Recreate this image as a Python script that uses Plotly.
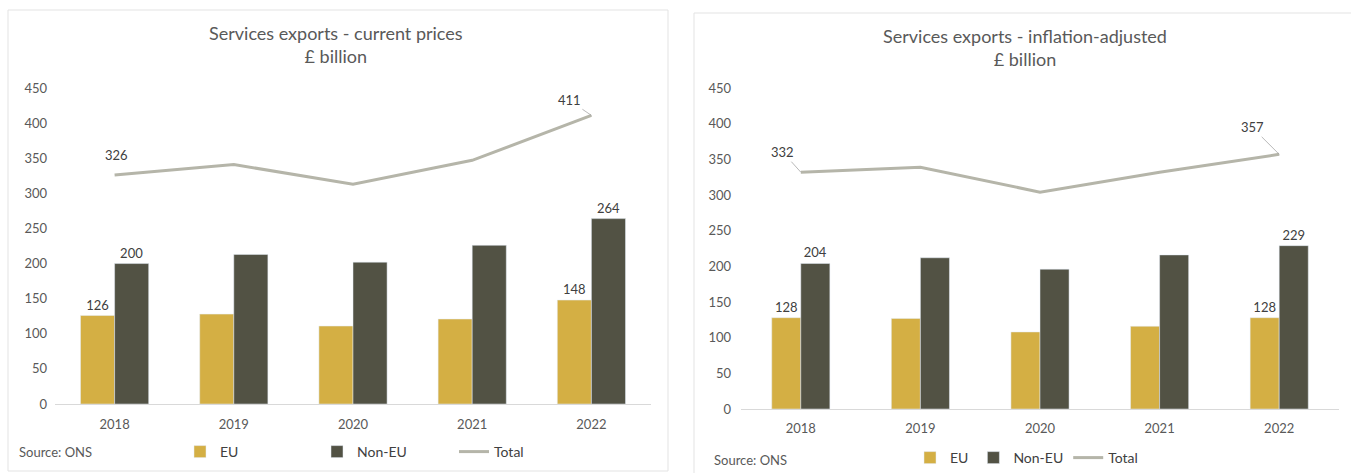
import plotly.graph_objects as go

# ---------------- data ----------------
years = ["2018", "2019", "2020", "2021", "2022"]
eu_current = [126, 128, 111, 121, 148]
noneu_current = [200, 213, 202, 226, 264]
total_current = [326, 341, 313, 347, 411]
eu_real = [128, 127, 108, 116, 128]
noneu_real = [204, 212, 196, 216, 229]
total_real = [332, 339, 304, 332, 357]
y_ticks = [0, 50, 100, 150, 200, 250, 300, 350, 400, 450]
labelled = [0, 4]  # indices that carry data labels

W, H = 1351, 473
def px(x):
    return x / W
def py(y):
    return 1 - y / H

EU_COL = "#D4AF44"
NONEU_COL = "#525244"
TOT_COL = "#B5B5A9"
TXT = "#595959"
FONT = "Lato"

def lab(vals):
    return [str(v) if i in labelled else "" for i, v in enumerate(vals)]

fig = go.Figure()

def add_panel(eu, noneu, tot, xa, ya, leg, w):
    fig.add_trace(go.Bar(x=years, y=eu, name="EU", marker_color=EU_COL,
                         width=w, offset=-w, text=lab(eu), textposition="outside",
                         textfont=dict(size=13, color="#404040", family=FONT),
                         cliponaxis=False, xaxis=xa, yaxis=ya, legend=leg))
    fig.add_trace(go.Bar(x=years, y=noneu, name="Non-EU", marker_color=NONEU_COL,
                         width=w, offset=0, text=lab(noneu), textposition="outside",
                         textfont=dict(size=13, color="#404040", family=FONT),
                         cliponaxis=False, xaxis=xa, yaxis=ya, legend=leg))
    fig.add_trace(go.Scatter(x=years, y=tot, name="Total", mode="lines",
                             line=dict(color=TOT_COL, width=3),
                             xaxis=xa, yaxis=ya, legend=leg))

add_panel(eu_current, noneu_current, total_current, "x", "y", "legend", 0.286)
add_panel(eu_real, noneu_real, total_real, "x2", "y2", "legend2", 0.243)

axis_x = dict(type="category", range=[-0.5, len(years) - 0.5], autorange=False,
              automargin=False, showline=True, linecolor="#d9d9d9", linewidth=1,
              showgrid=False, zeroline=False, ticks="",
              tickfont=dict(size=13, color=TXT, family=FONT))
axis_y = dict(range=[0, 450], autorange=False, automargin=False, tickvals=y_ticks,
              showline=False, showgrid=False, zeroline=False, ticks="",
              tickfont=dict(size=13, color=TXT, family=FONT))

fig.update_layout(
    width=W, height=H, margin=dict(l=0, r=0, t=0, b=0, autoexpand=False),
    paper_bgcolor="white", plot_bgcolor="white",
    barmode="overlay",
    font=dict(family=FONT, color=TXT),
    xaxis=dict(axis_x, domain=[px(55), px(651)], anchor="y", ticklabelstandoff=8),
    yaxis=dict(axis_y, domain=[py(404), py(88)], anchor="x", ticklabelstandoff=7),
    xaxis2=dict(axis_x, domain=[px(741), px(1339)], anchor="y2", ticklabelstandoff=7),
    yaxis2=dict(axis_y, domain=[py(409), py(88)], anchor="x2", ticklabelstandoff=9),
    legend=dict(orientation="h", x=px(180), xanchor="left", y=py(452), yanchor="middle",
                entrywidth=92, entrywidthmode="pixels",
                font=dict(size=14, color="#404040", family=FONT), bgcolor="rgba(0,0,0,0)"),
    legend2=dict(orientation="h", x=px(910), xanchor="left", y=py(458), yanchor="middle",
                 font=dict(size=14, color="#404040", family=FONT), bgcolor="rgba(0,0,0,0)"),
    showlegend=True,
)

# panel borders
fig.add_shape(type="rect", xref="paper", yref="paper", x0=px(8), x1=px(668),
              y0=py(471), y1=py(10), line=dict(color="#e3e3e3", width=1), layer="below")
fig.add_shape(type="rect", xref="paper", yref="paper", x0=px(694), x1=px(1360),
              y0=py(476), y1=py(13), line=dict(color="#e3e3e3", width=1), layer="below")

# titles
fig.add_annotation(text="Services exports - current prices<br>£ billion", xref="paper", yref="paper",
                   x=px(336), y=py(45), xanchor="center", yanchor="middle", showarrow=False,
                   align="center", font=dict(size=18, color=TXT, family=FONT))
fig.add_annotation(text="Services exports - inflation-adjusted<br>£ billion", xref="paper", yref="paper",
                   x=px(1025), y=py(47), xanchor="center", yanchor="middle", showarrow=False,
                   align="center", font=dict(size=18, color=TXT, family=FONT))

# sources
fig.add_annotation(text="Source: ONS", xref="paper", yref="paper", x=px(17), y=py(452),
                   xanchor="left", yanchor="middle", showarrow=False,
                   font=dict(size=13, color=TXT, family=FONT))
fig.add_annotation(text="Source: ONS", xref="paper", yref="paper", x=px(712), y=py(460),
                   xanchor="left", yanchor="middle", showarrow=False,
                   font=dict(size=13, color=TXT, family=FONT))

# total line labels (x given as category index)
i0, i4 = labelled
lblfont = dict(size=13, color="#404040", family=FONT)
fig.add_annotation(x=i0, y=total_current[i0], xref="x", yref="y", text=str(total_current[i0]),
                   showarrow=False, yanchor="bottom", yshift=10, xshift=2, font=lblfont)
fig.add_annotation(x=i4, y=total_current[i4], xref="x", yref="y", text=str(total_current[i4]),
                   showarrow=True, arrowhead=0, arrowwidth=0.8, arrowcolor="#a6a6a6",
                   ax=-22, ay=-15, font=lblfont)
fig.add_annotation(x=i0, y=total_real[i0], xref="x2", yref="y2", text=str(total_real[i0]),
                   showarrow=True, arrowhead=0, arrowwidth=0.8, arrowcolor="#a6a6a6",
                   ax=-18, ay=-20, font=lblfont)
fig.add_annotation(x=i4, y=total_real[i4], xref="x2", yref="y2", text=str(total_real[i4]),
                   showarrow=True, arrowhead=0, arrowwidth=0.8, arrowcolor="#a6a6a6",
                   ax=-27, ay=-27, font=lblfont)

fig.write_html("out.html")
